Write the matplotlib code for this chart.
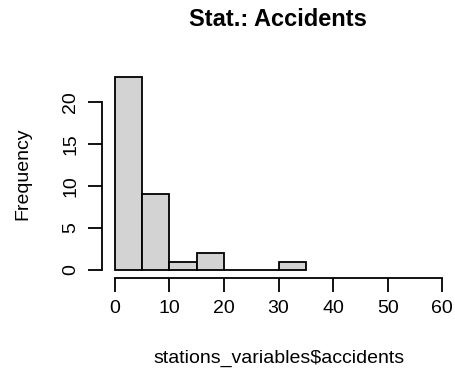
import numpy as np
import matplotlib
matplotlib.use("Agg")
import matplotlib.pyplot as plt

plt.rcParams['font.family'] = ['Liberation Sans', 'DejaVu Sans']

# Histogram bins (width 5) and counts
bin_edges = [0, 5, 10, 15, 20, 25, 30, 35]
counts = [23, 9, 1, 2, 0, 0, 1]
x_ticks = [0, 10, 20, 30, 40, 50, 60]
y_ticks = [0, 5, 10, 15, 20]

W, H = 455, 376
fig = plt.figure(figsize=(W / 100, H / 100), dpi=100)
left, right = 101.6, 455.4
top, bottom = 68.8, 277.7
ax = fig.add_axes([left / W, 1 - bottom / H, (right - left) / W, (bottom - top) / H])

lefts = np.array(bin_edges[:-1])
widths = np.diff(bin_edges)
ax.bar(lefts, counts, width=widths, align='edge', color='#D3D3D3',
       edgecolor='black', linewidth=1.3)

ax.set_xlim(-2.4, 62.4)
ax.set_ylim(-0.92, 23.92)

for s in ['top', 'right']:
    ax.spines[s].set_visible(False)
ax.spines['left'].set_bounds(0, 20)
ax.spines['bottom'].set_bounds(0, 60)
for s in ['left', 'bottom']:
    ax.spines[s].set_linewidth(1.3)

ax.set_xticks(x_ticks)
ax.set_yticks(y_ticks)
ax.tick_params(axis='both', length=10, width=1.3, labelsize=14, pad=6)
ax.set_yticklabels([str(v) for v in y_ticks], rotation=90, va='center')

ax.set_xlabel('stations_variables$accidents', fontsize=14, labelpad=24)
ax.set_ylabel('Frequency', fontsize=14, labelpad=22)
fig.text(278 / W, 1 - 20 / H, 'Stat.: Accidents', fontsize=17, fontweight='bold',
         ha='center', va='center')

fig.savefig('out.png', dpi=100)
